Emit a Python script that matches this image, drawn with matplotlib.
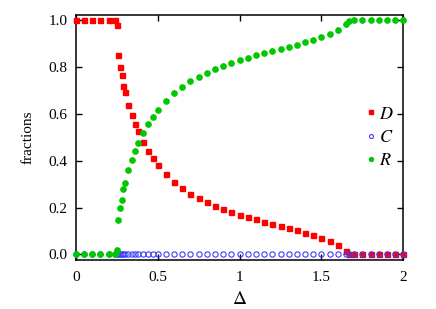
import matplotlib
matplotlib.use("Agg")
import matplotlib.pyplot as plt

# 数据：从图上读取
x = [0, 0.05, 0.1, 0.15, 0.2, 0.24, 0.25, 0.26, 0.27, 0.28, 0.29, 0.30,
     0.32, 0.34, 0.36, 0.38, 0.41, 0.44, 0.47, 0.50, 0.55, 0.6, 0.65, 0.7,
     0.75, 0.8, 0.85, 0.9, 0.95, 1.0, 1.05, 1.1, 1.15, 1.2, 1.25, 1.3, 1.35,
     1.4, 1.45, 1.5, 1.55, 1.6, 1.65, 1.67, 1.7, 1.75, 1.8, 1.85, 1.9, 1.95, 2.0]
D = [1, 1, 1, 1, 1, 1, 0.978, 0.851, 0.80, 0.765, 0.72, 0.693,
     0.639, 0.596, 0.558, 0.525, 0.478, 0.443, 0.411, 0.382, 0.342, 0.309, 0.282, 0.258,
     0.24, 0.223, 0.207, 0.193, 0.181, 0.17, 0.159, 0.149, 0.14, 0.13, 0.122, 0.112, 0.103,
     0.093, 0.082, 0.07, 0.057, 0.04, 0.013, 0, 0, 0, 0, 0, 0, 0, 0]
R = [0, 0, 0, 0, 0, 0, 0.02, 0.147, 0.198, 0.232, 0.279, 0.306,
     0.359, 0.402, 0.441, 0.474, 0.519, 0.555, 0.586, 0.616, 0.656, 0.687, 0.714, 0.74,
     0.758, 0.775, 0.79, 0.804, 0.817, 0.828, 0.839, 0.849, 0.858, 0.867, 0.875, 0.886, 0.895,
     0.905, 0.915, 0.927, 0.94, 0.959, 0.985, 0.997, 1, 1, 1, 1, 1, 1, 1]
C = [0.0] * len(x)

plt.rcParams["font.family"] = ["Liberation Serif", "DejaVu Serif"]
plt.rcParams["mathtext.fontset"] = "stix"

fig = plt.figure(figsize=(4.36, 3.09), dpi=100)
ax = fig.add_axes([0.174, 0.159, 0.751, 0.792])

kw = dict(linestyle="none", clip_on=False, zorder=5)
ax.plot(x, D, "s", color="#ff0000", ms=3.6, mec="#ff0000", label="$D$", **kw)
ax.plot(x, C, "o", mfc="none", mec="#3c3cff", mew=0.8, ms=3.8, label="$C$", **kw)
ax.plot(x, R, "o", color="#00c800", ms=3.8, label="$R$", **kw)

ax.set_xlim(0, 2)
ax.set_ylim(-0.0235, 1.0213)
ax.set_xticks([0, 0.5, 1, 1.5, 2])
ax.set_xticklabels(["0", "0.5", "1", "1.5", "2"])
ax.set_yticks([0, 0.2, 0.4, 0.6, 0.8, 1.0])
ax.set_yticklabels(["0.0", "0.2", "0.4", "0.6", "0.8", "1.0"])
ax.tick_params(direction="in", top=True, right=True, length=4.5, width=1,
               labelsize=11, pad=6)
ax.tick_params(axis="x", pad=8)
for s in ax.spines.values():
    s.set_linewidth(1.1)

ax.set_xlabel(r"$\Delta$", fontsize=14, labelpad=5)
ax.set_ylabel("fractions", fontsize=11, labelpad=10)

leg = ax.legend(loc="center right", bbox_to_anchor=(1.02, 0.5), frameon=False,
                fontsize=13, handlelength=0.6, handletextpad=0.15,
                labelspacing=0.35, markerscale=0.75)

fig.savefig("out.png", dpi=100)
